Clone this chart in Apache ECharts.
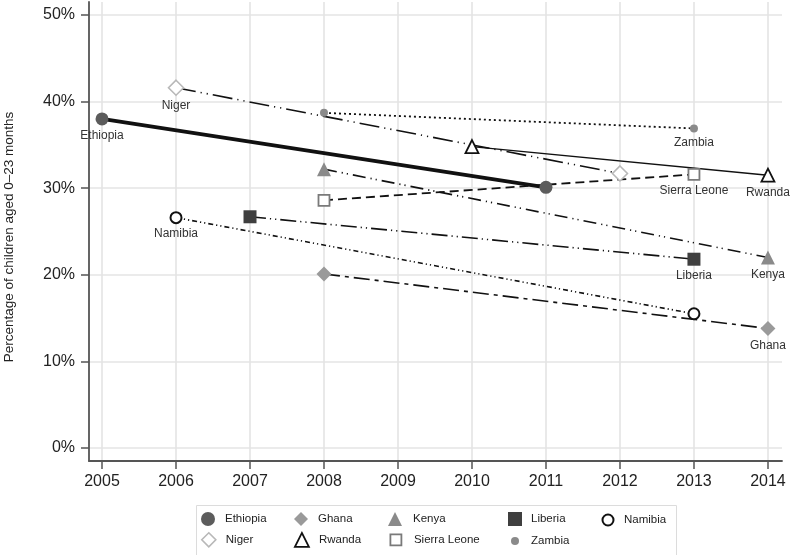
<!DOCTYPE html>
<html>
<head>
<meta charset="utf-8">
<script src="https://cdn.jsdelivr.net/npm/echarts@6/dist/echarts.min.js"></script>
<style>
html,body{margin:0;padding:0;background:#fff;}
#chart{width:790px;height:555px;}
</style>
</head>
<body>
<div id="chart"></div>
<script>
// ---- data ----
const xTicks = [2005, 2006, 2007, 2008, 2009, 2010, 2011, 2012, 2013, 2014];
const yTicks = [0, 10, 20, 30, 40, 50];
const countries = ['Ethiopia', 'Niger', 'Zambia', 'Rwanda', 'Kenya', 'Sierra Leone', 'Namibia', 'Liberia', 'Ghana'];
const ethiopia = [[2005, 38.0], [2011, 30.1]];
const niger = [[2006, 41.6], [2012, 31.7]];
const zambia = [[2008, 38.7], [2013, 36.9]];
const rwanda = [[2010, 34.8], [2014, 31.5]];
const kenya = [[2008, 32.2], [2014, 22.0]];
const sierraLeone = [[2008, 28.6], [2013, 31.6]];
const namibia = [[2006, 26.6], [2013, 15.5]];
const liberia = [[2007, 26.7], [2013, 21.8]];
const ghana = [[2008, 20.1], [2014, 13.8]];
const labelPoint = { 'Ethiopia': 0, 'Niger': 0, 'Zambia': 1, 'Rwanda': 1, 'Kenya': 1, 'Sierra Leone': 1, 'Namibia': 0, 'Liberia': 1, 'Ghana': 1 };
const seriesData = { 'Ethiopia': ethiopia, 'Niger': niger, 'Zambia': zambia, 'Rwanda': rwanda, 'Kenya': kenya, 'Sierra Leone': sierraLeone, 'Namibia': namibia, 'Liberia': liberia, 'Ghana': ghana };

// ---- styles ----
const styles = {
  'Ethiopia':     { symbol: 'circle',   size: 13, item: { color: '#5c5c5c' }, line: { width: 3.8, type: 'solid' } },
  'Niger':        { symbol: 'diamond',  size: 15, item: { color: '#fff', borderColor: '#b8b8b8', borderWidth: 1.6 }, line: { width: 1.6, type: [20, 5, 1.2, 5, 1.2, 5] } },
  'Zambia':       { symbol: 'circle',   size: 8,  item: { color: '#8a8a8a' }, line: { width: 1.8, type: [2, 3] } },
  'Rwanda':       { symbol: 'triangle', size: 13, item: { color: '#fff', borderColor: '#111', borderWidth: 1.8 }, line: { width: 1.5, type: 'solid' } },
  'Kenya':        { symbol: 'triangle', size: 14, item: { color: '#8a8a8a' }, line: { width: 1.6, type: [13, 5, 1.2, 4, 1.2, 5] } },
  'Sierra Leone': { symbol: 'rect',     size: 11, item: { color: '#fff', borderColor: '#7a7a7a', borderWidth: 1.8 }, line: { width: 1.8, type: [9, 5] } },
  'Namibia':      { symbol: 'circle',   size: 11, item: { color: '#fff', borderColor: '#111', borderWidth: 2 }, line: { width: 1.6, type: [5, 3, 1.2, 3, 1.2, 3] } },
  'Liberia':      { symbol: 'rect',     size: 13, item: { color: '#3f3f3f' }, line: { width: 1.6, type: [16, 4, 1.2, 4, 1.2, 4] } },
  'Ghana':        { symbol: 'diamond',  size: 15, item: { color: '#9a9a9a' }, line: { width: 1.6, type: [16, 5, 4, 5] } }
};

const FONT = 'Liberation Sans, Arial, sans-serif';

const series = countries.map(function (name) {
  const st = styles[name];
  const pts = seriesData[name];
  return {
    name: name,
    type: 'line',
    symbol: st.symbol,
    symbolSize: st.size,
    showAllSymbol: true,
    itemStyle: st.item,
    lineStyle: { color: '#111', width: st.line.width, type: st.line.type },
    emphasis: { disabled: true },
    z: name === 'Ethiopia' ? 3 : 2,
    data: pts.map(function (p, i) {
      const d = { value: p };
      if (i === labelPoint[name]) {
        d.label = { show: true, position: 'bottom', distance: 4, formatter: name, fontFamily: FONT, fontSize: 12, color: '#333' };
      }
      return d;
    })
  };
});

// legend layout: columns and rows
const legendCols = [[208, 225], [301, 318], [395, 413], [515, 531], [607, 623]];
const legendRows = [519, 539];
const legendOrder = ['Ethiopia', 'Ghana', 'Kenya', 'Liberia', 'Namibia', 'Niger', 'Rwanda', 'Sierra Leone', 'Zambia'];
const legends = legendOrder.map(function (name, i) {
  const st = styles[name];
  const col = legendCols[i % 5];
  const row = legendRows[Math.floor(i / 5)];
  const s = st.size > 12 ? 14 : st.size;
  const left = col[0] - s / 2;
  const padL = col[1] - (left + s + 5);
  return {
    show: true,
    orient: 'horizontal',
    left: left,
    top: row - s / 2,
    padding: 0,
    itemWidth: s,
    itemHeight: s,
    selectedMode: false,
    textStyle: { fontFamily: FONT, fontSize: 11.5, color: '#222', padding: [0, 0, 0, padL] },
    data: [{ name: name, icon: st.symbol, itemStyle: Object.assign({ borderWidth: 0 }, st.item) }]
  };
});

const chart = echarts.init(document.getElementById('chart'), null, { renderer: 'canvas' });
chart.setOption({
  animation: false,
  backgroundColor: '#fff',
  grid: { left: 89, right: 8, top: 2, bottom: 94, containLabel: false, outerBoundsMode: 'none' },
  xAxis: {
    type: 'value',
    min: 2004.824,
    max: 2014.19,
    axisLine: { show: true, onZero: false, lineStyle: { color: '#555', width: 1.8 } },
    axisTick: { show: true, length: 8, lineStyle: { color: '#555', width: 1.5 }, customValues: xTicks },
    axisLabel: { show: true, margin: 13, fontFamily: FONT, fontSize: 16, color: '#222', customValues: xTicks, formatter: function (v) { return String(v); } },
    splitLine: { show: true, lineStyle: { color: '#e4e4e4', width: 1.6 } }
  },
  yAxis: {
    type: 'value',
    min: -1.5,
    max: 51.5,
    name: 'Percentage of children aged 0–23 months',
    nameLocation: 'middle',
    nameGap: 73,
    nameTextStyle: { fontFamily: FONT, fontSize: 13.5, color: '#222', padding: [0, 11, 0, 0] },
    axisLine: { show: true, onZero: false, lineStyle: { color: '#555', width: 1.8 } },
    axisTick: { show: true, length: 8, lineStyle: { color: '#555', width: 1.5 }, customValues: yTicks },
    axisLabel: { show: true, margin: 14, fontFamily: FONT, fontSize: 16, color: '#222', customValues: yTicks, formatter: function (v) { return v + '%'; } },
    splitLine: { show: true, lineStyle: { color: '#e4e4e4', width: 1.6 } }
  },
  legend: legends,
  graphic: [{
    type: 'rect',
    left: 194, top: 503,
    shape: { width: 480, height: 50 },
    style: { fill: 'none', stroke: '#dcdcdc', lineWidth: 1 },
    z: -1
  }],
  series: series
});
</script>
</body>
</html>
